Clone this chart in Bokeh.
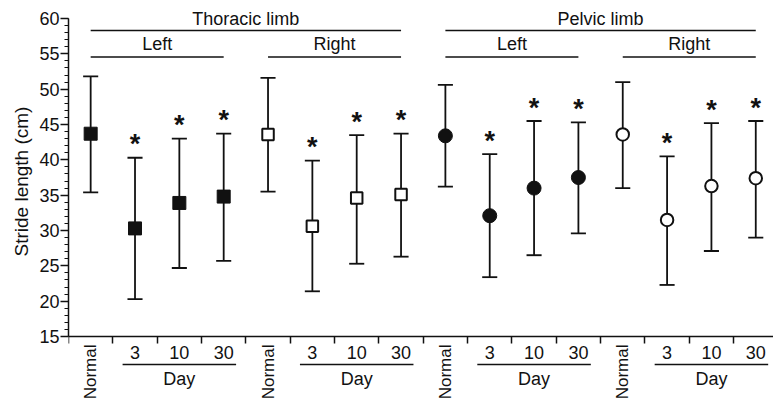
import numpy as np
from bokeh.plotting import figure
from bokeh.models import FixedTicker, LinearAxis, Range1d, CustomLabelingPolicy, Title
from bokeh.core.properties import value
from bokeh.embed import file_html
from bokeh.resources import INLINE

# ---------------- data ----------------
limbs = ["Thoracic limb", "Pelvic limb"]
sides = ["Left", "Right"]
conditions = ["Normal", "3", "10", "30"]
day_label = "Day"
y_label = "Stride length (cm)"
y_ticks = [15, 20, 25, 30, 35, 40, 45, 50, 55, 60]

# mean stride length (cm) per condition, for each limb/side
mean_thoracic_left = [43.7, 30.3, 33.9, 34.8]
mean_thoracic_right = [43.6, 30.6, 34.6, 35.1]
mean_pelvic_left = [43.4, 32.1, 36.0, 37.5]
mean_pelvic_right = [43.6, 31.5, 36.3, 37.4]

upper_thoracic_left = [51.8, 40.3, 43.0, 43.7]
upper_thoracic_right = [51.6, 39.9, 43.5, 43.7]
upper_pelvic_left = [50.6, 40.8, 45.5, 45.3]
upper_pelvic_right = [51.0, 40.5, 45.2, 45.5]

lower_thoracic_left = [35.4, 20.3, 24.7, 25.7]
lower_thoracic_right = [35.5, 21.4, 25.3, 26.3]
lower_pelvic_left = [36.2, 23.4, 26.5, 29.6]
lower_pelvic_right = [36.0, 22.3, 27.1, 29.0]

significant = [False, True, True, True]

# ---------------- figure ----------------
FONT = "Liberation Sans"
INK = "#111111"

p = figure(width=773, height=405,
           x_range=Range1d(-0.5, 15.40), y_range=Range1d(5.24, 62.55),
           output_backend="svg", toolbar_location=None,
           x_axis_location=None, y_axis_location="left",
           min_border_left=68, min_border_right=0,
           min_border_top=0, min_border_bottom=0)
p.outline_line_color = None
p.xgrid.visible = False
p.ygrid.visible = False
p.background_fill_color = "white"
p.border_fill_color = "white"

ya = p.yaxis[0]
ya.ticker = FixedTicker(ticks=y_ticks, minor_ticks=list(range(15, 61)))
ya.bounds = (15, 60)
ya.major_tick_out = 8
ya.major_tick_in = 0
ya.minor_tick_out = 4
ya.minor_tick_in = 0
ya.axis_line_width = 1.5
ya.major_tick_line_width = 1.5
ya.minor_tick_line_width = 1.2
ya.axis_line_color = INK
ya.major_tick_line_color = INK
ya.minor_tick_line_color = INK
ya.major_label_text_font = FONT
ya.major_label_text_font_size = "18px"
ya.major_label_text_color = INK
ya.major_label_standoff = 1

# y-axis title, centred on the 15-60 span of the axis
p.add_layout(Title(text=y_label, align="left", offset=149,
                   text_font=FONT, text_font_size="19px",
                   text_font_style="normal", text_color=INK), "left")

n = len(conditions)
xa = LinearAxis(ticker=FixedTicker(ticks=[i - 0.5 for i in range(4 * n + 1)]),
                fixed_location=15,
                major_tick_out=0, major_tick_in=7,
                minor_tick_out=0, minor_tick_in=0,
                major_label_text_font_size="0px", major_label_standoff=0,
                major_label_policy=CustomLabelingPolicy(code="return new Set()"),
                axis_line_width=1.5, major_tick_line_width=1.5,
                axis_line_color=INK, major_tick_line_color=INK)
p.add_layout(xa, "above")

groups = [
    (mean_thoracic_left, upper_thoracic_left, lower_thoracic_left, "square", True),
    (mean_thoracic_right, upper_thoracic_right, lower_thoracic_right, "square", False),
    (mean_pelvic_left, upper_pelvic_left, lower_pelvic_left, "circle", True),
    (mean_pelvic_right, upper_pelvic_right, lower_pelvic_right, "circle", False),
]

cap = 0.17
for g, (m, up, lo, marker, filled) in enumerate(groups):
    xs = np.arange(n) + g * n
    up = np.array(up); lo = np.array(lo); m = np.array(m)
    p.segment(x0=xs, y0=lo, x1=xs, y1=up, line_color=INK, line_width=1.8)
    p.segment(x0=xs - cap, y0=up, x1=xs + cap, y1=up, line_color=INK, line_width=1.8)
    p.segment(x0=xs - cap, y0=lo, x1=xs + cap, y1=lo, line_color=INK, line_width=1.8)
    size = 13 if marker == "square" else 14
    if filled:
        p.scatter(xs, m, marker=marker, size=size, fill_color=INK, line_color=INK, line_width=1)
    else:
        p.scatter(xs, m, marker=marker, size=size - 1.5, fill_color="white", line_color=INK, line_width=2)
    sig = np.array(significant)
    p.text(x=xs[sig], y=up[sig] + 1.9, text=["*"] * int(sig.sum()),
           text_font=value(FONT), text_font_size="27px", text_font_style="bold",
           text_color=INK, text_align="center", text_baseline="middle")

    # bottom labels
    day_x = xs[1:]
    p.text(x=day_x, y=[12.74] * len(day_x), text=conditions[1:],
           text_font=value(FONT), text_font_size="18px", text_color=INK,
           text_align="center", text_baseline="middle")
    p.segment(x0=[day_x[0] - 0.28], y0=[11.04], x1=[day_x[-1] + 0.28], y1=[11.04],
              line_color=INK, line_width=1.5)
    p.text(x=[day_x.mean()], y=[9.06], text=[day_label],
           text_font=value(FONT), text_font_size="18px", text_color=INK,
           text_align="center", text_baseline="middle")
    p.text(x=[xs[0]], y=[13.87], text=[conditions[0]], angle=np.pi / 2,
           text_font=value(FONT), text_font_size="17px", text_color=INK,
           text_align="right", text_baseline="middle")

# top hierarchy labels
for li, limb in enumerate(limbs):
    x0 = li * 2 * n
    x1 = x0 + 2 * n - 1
    p.segment(x0=[x0], y0=[58.30], x1=[x1], y1=[58.30], line_color=INK, line_width=1.5)
    p.text(x=[(x0 + x1) / 2], y=[59.96], text=[limb],
           text_font=value(FONT), text_font_size="18px", text_color=INK,
           text_align="center", text_baseline="middle")
    for si, side in enumerate(sides):
        s0 = x0 + si * n
        s1 = s0 + n - 1
        p.segment(x0=[s0], y0=[54.55], x1=[s1], y1=[54.55], line_color=INK, line_width=1.5)
        p.text(x=[(s0 + s1) / 2], y=[56.43], text=[side],
               text_font=value(FONT), text_font_size="18px", text_color=INK,
               text_align="center", text_baseline="middle")

open("out.html", "w").write(file_html(p, INLINE))
